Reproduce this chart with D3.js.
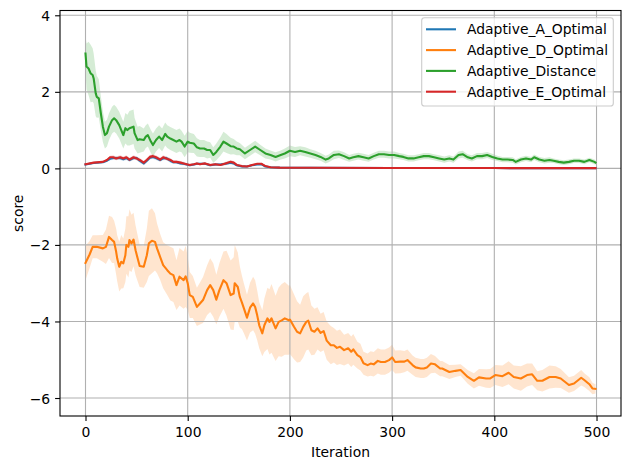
<!DOCTYPE html>
<html><head><meta charset="utf-8">
<script src="https://cdn.jsdelivr.net/npm/d3@7"></script>
<style>
body{margin:0;background:#fff}
svg{display:block}
text{font-family:"DejaVu Sans",sans-serif}
</style>
</head><body>
<svg id="c" width="630" height="469"></svg>
<script>
// ---------- data ----------
const seriesNames = ["Adaptive_A_Optimal","Adaptive_D_Optimal","Adaptive_Distance","Adaptive_E_Optimal"];
const xTicks = [0,100,200,300,400,500];
const yTicks = [-6,-4,-2,0,2,4];

const iterA = [0,8,17,21,24,27,30,34,37,40,43,47,50,53,57,60,63,66,69,73,76,79,83,86,89,93,96,99,102,106,109,112,117,122,127,132,137,142,145,148,153,158,163,168,172,176,181,190,220,300,400,499];
const scoreA = [0.10,0.14,0.16,0.2,0.25,0.27,0.27,0.27,0.24,0.27,0.22,0.27,0.27,0.2,0.13,0.2,0.28,0.3,0.27,0.22,0.26,0.27,0.2,0.16,0.16,0.13,0.12,0.1,0.08,0.1,0.12,0.12,0.12,0.08,0.1,0.1,0.12,0.15,0.13,0.08,0.05,0.05,0.08,0.1,0.11,0.05,0.03,0.02,0.015,0.01,0.008,0.006];
const sdA = [0.02,0.02,0.02,0.03,0.04,0.05,0.05,0.05,0.05,0.05,0.05,0.05,0.05,0.05,0.05,0.05,0.05,0.05,0.05,0.05,0.05,0.05,0.05,0.04,0.04,0.04,0.04,0.03,0.03,0.03,0.03,0.03,0.03,0.03,0.03,0.03,0.04,0.04,0.04,0.03,0.02,0.02,0.02,0.02,0.02,0.02,0.01,0.005,0.003,0.002,0.002,0.001];

const iterD = [0,4,7,11,17,20,23,26,28,30,31,33,35,37,39,40,42,43,45,47,49,51,53,57,60,62,65,68,70,73,76,80,83,86,89,92,96,98,100,102,105,109,112,115,119,122,125,128,131,135,138,142,145,146,149,151,153,155,158,161,164,166,168,170,173,175,178,180,182,186,189,192,195,199,200,204,207,210,213,216,218,221,224,227,230,233,236,240,243,246,249,253,257,260,262,266,269,272,276,279,282,286,289,293,297,300,303,308,312,315,320,323,328,331,334,338,342,347,349,356,362,367,374,380,385,392,396,401,408,414,419,426,432,437,442,447,454,460,465,473,478,485,488,493,496,499];
const scoreD = [-2.47,-2.25,-2.05,-2.05,-2.09,-2.05,-1.79,-1.87,-1.92,-2.18,
-2.35,-2.57,-2.44,-2.48,-2.27,-2.0,-2.05,-1.87,-1.96,-1.86,
-2.14,-2.35,-2.55,-2.57,-2.27,-1.96,-1.89,-1.92,-2.09,-2.31,
-2.53,-2.66,-2.75,-2.79,-3.05,-2.83,-2.92,-2.82,-3.0,-3.31,
-3.36,-3.62,-3.53,-3.44,-3.18,-3.05,-3.18,-3.43,-3.18,-2.92,
-3.0,-3.31,-3.27,-3.0,-3.1,-3.36,-3.5,-3.66,-3.9,-3.64,
-3.53,-3.62,-3.84,-4.1,-4.31,-4.1,-3.92,-4.01,-3.92,-4.18,
-4.01,-3.97,-3.92,-3.97,-3.95,-4.14,-4.27,-4.31,-4.14,-4.01,
-3.98,-4.23,-4.27,-4.18,-4.3,-4.25,-4.5,-4.62,-4.62,-4.69,
-4.66,-4.75,-4.7,-4.79,-4.73,-4.88,-4.93,-5.09,-5.14,-5.1,
-5.12,-5.03,-5.06,-5.06,-5.01,-4.94,-5.06,-5.05,-5.05,-5.01,
-5.14,-5.2,-5.23,-5.23,-5.2,-5.1,-5.12,-5.23,-5.23,-5.32,
-5.29,-5.27,-5.45,-5.55,-5.46,-5.49,-5.49,-5.4,-5.43,-5.34,
-5.45,-5.49,-5.4,-5.38,-5.55,-5.55,-5.45,-5.45,-5.49,-5.66,
-5.62,-5.47,-5.53,-5.64,-5.75,-5.76];
const sdD = [0.45,0.35,0.3,0.3,0.35,0.45,0.55,0.6,0.55,0.6,
0.6,0.65,0.7,0.65,0.7,0.75,0.8,0.8,0.75,0.7,
0.65,0.6,0.55,0.55,0.7,0.85,0.85,0.75,0.65,0.6,
0.6,0.65,0.7,0.7,0.65,0.75,0.75,0.8,0.7,0.6,
0.55,0.5,0.55,0.6,0.65,0.7,0.7,0.65,0.7,0.75,
0.85,0.9,0.95,1.0,0.9,0.8,0.7,0.65,0.6,0.65,
0.7,0.7,0.65,0.6,0.6,0.7,0.8,0.85,0.9,0.85,
0.9,0.95,0.95,0.9,0.9,0.85,0.8,0.75,0.8,0.75,
0.75,0.65,0.6,0.55,0.5,0.5,0.5,0.5,0.45,0.45,
0.45,0.4,0.4,0.4,0.4,0.35,0.35,0.3,0.3,0.32,
0.32,0.33,0.33,0.33,0.33,0.33,0.3,0.3,0.28,0.28,
0.25,0.25,0.25,0.25,0.25,0.25,0.22,0.2,0.2,0.18,
0.16,0.15,0.18,0.2,0.22,0.24,0.25,0.26,0.28,0.3,
0.3,0.32,0.3,0.28,0.25,0.28,0.3,0.28,0.25,0.2,
0.2,0.2,0.18,0.18,0.15,0.12];

const iterDist = [0,1,3,5,7,8,10,11,13,15,17,19,21,23,26,28,30,33,35,37,39,41,43,45,47,48,51,53,57,59,61,64,66,69,72,75,78,80,83,86,89,92,94,97,100,102,106,109,112,116,119,122,125,128,132,135,138,142,145,148,151,156,161,166,171,176,181,186,191,195,200,205,210,215,220,225,230,235,238,243,248,253,258,262,267,272,277,282,287,292,297,302,307,311,316,321,326,331,336,341,346,351,356,360,365,369,374,378,383,388,393,398,403,408,413,418,421,426,431,436,439,444,449,454,458,463,468,473,478,483,488,493,498,499];
const scoreDist = [3.0,2.66,2.61,2.48,2.44,2.35,1.96,1.87,1.83,1.44,
1.09,0.87,0.92,1.09,1.26,1.31,1.26,1.13,1.0,0.87,
1.05,1.0,1.05,1.07,1.09,0.92,0.74,0.76,0.74,0.83,
0.87,0.7,0.61,0.74,0.83,0.74,0.9,0.83,0.78,0.74,
0.7,0.74,0.7,0.57,0.7,0.67,0.65,0.55,0.52,0.52,
0.48,0.48,0.35,0.43,0.57,0.7,0.65,0.58,0.57,0.52,
0.5,0.39,0.48,0.57,0.48,0.39,0.35,0.3,0.35,0.39,
0.46,0.43,0.46,0.43,0.39,0.35,0.3,0.23,0.26,0.35,
0.37,0.32,0.26,0.29,0.32,0.29,0.26,0.32,0.37,0.37,
0.35,0.35,0.32,0.3,0.26,0.26,0.29,0.32,0.32,0.29,
0.26,0.23,0.26,0.23,0.35,0.37,0.29,0.26,0.32,0.32,
0.35,0.3,0.26,0.23,0.23,0.22,0.17,0.23,0.26,0.23,
0.29,0.23,0.2,0.22,0.2,0.17,0.15,0.17,0.2,0.2,
0.17,0.22,0.17,0.15];
const sdDist = [0.45,0.6,0.7,0.75,0.7,0.65,0.6,0.55,0.5,0.45,
0.4,0.35,0.35,0.35,0.35,0.35,0.35,0.35,0.35,0.35,
0.4,0.4,0.45,0.45,0.45,0.4,0.35,0.35,0.3,0.3,
0.3,0.3,0.3,0.3,0.3,0.3,0.3,0.3,0.3,0.3,
0.3,0.3,0.28,0.28,0.28,0.26,0.25,0.24,0.22,0.22,
0.22,0.2,0.2,0.22,0.24,0.26,0.25,0.22,0.2,0.18,
0.16,0.15,0.15,0.15,0.14,0.13,0.12,0.12,0.12,0.13,
0.14,0.13,0.12,0.12,0.11,0.11,0.1,0.1,0.1,0.11,
0.1,0.1,0.09,0.09,0.09,0.09,0.09,0.09,0.09,0.09,
0.09,0.09,0.08,0.08,0.08,0.08,0.08,0.08,0.08,0.08,
0.08,0.08,0.08,0.08,0.09,0.09,0.08,0.08,0.08,0.08,
0.08,0.08,0.07,0.07,0.07,0.07,0.07,0.07,0.07,0.07,
0.07,0.07,0.07,0.07,0.06,0.06,0.06,0.06,0.06,0.06,
0.06,0.06,0.06,0.06];

const iterE = [0,8,17,21,24,27,30,34,37,40,43,47,50,53,57,60,63,66,69,73,76,79,83,86,89,93,96,99,102,106,109,112,117,122,127,132,137,142,145,148,153,158,163,168,172,176,181,190,220,300,400,499];
const scoreE = [0.11,0.15,0.17,0.22,0.29,0.29,0.26,0.29,0.26,0.29,0.23,0.29,0.26,0.22,0.15,0.22,0.3,0.32,0.29,0.23,0.29,0.26,0.22,0.17,0.17,0.15,0.13,0.11,0.09,0.11,0.13,0.11,0.13,0.09,0.11,0.09,0.13,0.17,0.15,0.09,0.06,0.05,0.09,0.12,0.12,0.06,0.03,0.02,0.015,0.01,0.008,0.006];
const sdE = [0.02,0.02,0.02,0.03,0.04,0.05,0.05,0.05,0.05,0.05,0.05,0.05,0.05,0.05,0.05,0.05,0.05,0.05,0.05,0.05,0.05,0.05,0.05,0.04,0.04,0.04,0.04,0.03,0.03,0.03,0.03,0.03,0.03,0.03,0.03,0.03,0.04,0.04,0.04,0.03,0.02,0.02,0.02,0.02,0.02,0.02,0.01,0.005,0.003,0.002,0.002,0.001];

const colors = ["#1f77b4","#ff7f0e","#2ca02c","#d62728"];

// ---------- build ----------
const series = [
  {name: seriesNames[0], color: colors[0], iter: iterA, score: scoreA, sd: sdA},
  {name: seriesNames[1], color: colors[1], iter: iterD, score: scoreD, sd: sdD},
  {name: seriesNames[2], color: colors[2], iter: iterDist, score: scoreDist, sd: sdDist},
  {name: seriesNames[3], color: colors[3], iter: iterE, score: scoreE, sd: sdE}
].map(s => ({...s, pts: s.iter.map((x,i) => ({x, y: s.score[i], sd: s.sd[i]}))}));

const L = 60, R = 621, T = 10.5, B = 416;
const x = d3.scaleLinear().domain([-24.95, 523.95]).range([L, R]);
const y = d3.scaleLinear().domain([-6.47, 4.125]).range([B, T]);
const svg = d3.select("#c");
const fmt = d => (d < 0 ? "\u2212" + Math.abs(d) : String(d));

// bands
const area = d3.area().x(d => x(d.x)).y0(d => y(d.y - d.sd)).y1(d => y(d.y + d.sd));
svg.append("g").selectAll("path").data(series).join("path")
  .attr("d", s => area(s.pts)).attr("fill", s => s.color).attr("fill-opacity", 0.2).attr("stroke","none");

// grid
const grid = svg.append("g").attr("stroke", "#b0b0b0").attr("stroke-width", 1.1);
grid.selectAll("line.vx").data(xTicks).join("line")
  .attr("x1", d => x(d)).attr("x2", d => x(d)).attr("y1", T).attr("y2", B);
grid.selectAll("line.hy").data(yTicks).join("line")
  .attr("y1", d => y(d)).attr("y2", d => y(d)).attr("x1", L).attr("x2", R);

// lines
const line = d3.line().x(d => x(d.x)).y(d => y(d.y));
svg.append("g").selectAll("path").data(series).join("path")
  .attr("d", s => line(s.pts)).attr("fill","none").attr("stroke", s => s.color)
  .attr("stroke-width", 2.1).attr("stroke-linejoin","round").attr("stroke-linecap","square");

// axes
const xAxis = svg.append("g").attr("transform", `translate(0,${B})`)
  .call(d3.axisBottom(x).tickValues(xTicks).tickFormat(fmt).tickSize(4.9).tickSizeOuter(0).tickPadding(4.9));
xAxis.select(".domain").remove();
xAxis.selectAll("text").attr("y", 21.3).attr("dy", 0).attr("font-size", 13.9).attr("fill","#000")
  .attr("font-family","DejaVu Sans");
xAxis.selectAll("line").attr("stroke","#000").attr("stroke-width",1.1);

const yAxis = svg.append("g").attr("transform", `translate(${L},0)`)
  .call(d3.axisLeft(y).tickValues(yTicks).tickFormat(fmt).tickSize(4.9).tickSizeOuter(0).tickPadding(4.9));
yAxis.select(".domain").remove();
yAxis.selectAll("text").attr("dy", "0.36em").attr("font-size", 13.9).attr("fill","#000")
  .attr("font-family","DejaVu Sans");
yAxis.selectAll("line").attr("stroke","#000").attr("stroke-width",1.1);

// spines
svg.append("rect").attr("x", L).attr("y", T).attr("width", R - L).attr("height", B - T)
  .attr("fill","none").attr("stroke","#000").attr("stroke-width",1.1);

// axis labels
svg.append("text").attr("x", (L + R) / 2).attr("y", 456.5).attr("text-anchor","middle")
  .attr("font-size", 13.9).text("Iteration");
svg.append("text").attr("transform", `translate(22.5,${(T + B) / 2}) rotate(-90)`)
  .attr("text-anchor","middle").attr("font-size", 13.9).text("score");

// legend
const lg = svg.append("g");
lg.append("rect").attr("x", 421.7).attr("y", 17.7).attr("width", 191.6).attr("height", 88.3)
  .attr("rx", 2.8).attr("fill","#fff").attr("fill-opacity",0.8)
  .attr("stroke","#cccccc").attr("stroke-width",1.1);
const rows = lg.selectAll("g.row").data(series).join("g")
  .attr("transform", (d,i) => `translate(0,${29.3 + i * 20.8})`);
rows.append("line").attr("x1", 426).attr("x2", 456).attr("y1", 0).attr("y2", 0)
  .attr("stroke", d => d.color).attr("stroke-width", 2.1);
rows.append("text").attr("x", 467).attr("y", 5).attr("font-size", 13.9).text(d => d.name);
</script>
</body></html>
